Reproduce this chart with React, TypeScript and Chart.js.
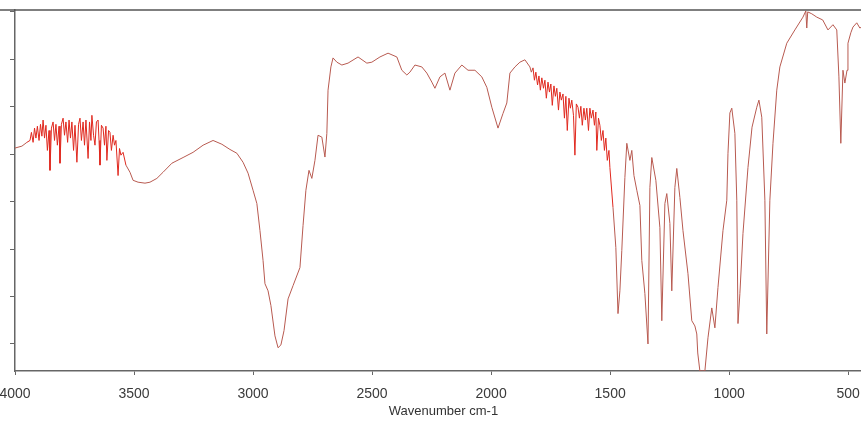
import React, { useEffect, useRef } from "react";
import { Chart, registerables } from "chart.js";

Chart.register(...registerables);

// Wavenumber (cm-1) and transmittance (%T)
const wavenumbers: number[] = [
  4000, 3971, 3950,
  3937, 3931, 3924, 3918, 3912, 3906, 3899, 3893, 3887, 3882, 3876, 3870, 3864, 3857, 3853, 3847,
  3840, 3834, 3828, 3822, 3815, 3811, 3805, 3798, 3792, 3786, 3779, 3773, 3767, 3761, 3754, 3748,
  3740, 3733, 3727, 3721, 3714, 3708, 3702, 3693, 3687, 3681, 3677, 3670, 3664, 3658, 3651, 3647,
  3643, 3637, 3630, 3624, 3618, 3614, 3607, 3601, 3595, 3588, 3582, 3576, 3567, 3561, 3555, 3546,
  3534,
  3517, 3504, 3483, 3454, 3433, 3404, 3378, 3341, 3294, 3252, 3210, 3168, 3131, 3097, 3068, 3042,
  3021, 3000, 2984, 2971, 2958, 2950, 2937, 2925, 2908, 2895, 2883, 2870, 2853, 2832, 2803, 2790,
  2778, 2765, 2753, 2740, 2727, 2711, 2698, 2690, 2685, 2673, 2664, 2648, 2627, 2601, 2559, 2522,
  2501, 2467, 2433, 2396, 2375, 2354, 2341, 2320, 2291, 2270, 2249, 2236, 2215, 2194, 2173, 2152,
  2123, 2097, 2068, 2039, 2018, 1997, 1971, 1950, 1934, 1921, 1900, 1879, 1858,
  1837, 1831, 1824, 1818, 1812, 1805, 1799, 1793, 1787, 1780, 1774, 1768, 1761, 1755, 1749, 1743,
  1736, 1730, 1724, 1717, 1711, 1705, 1698, 1692, 1686, 1680, 1673, 1667, 1661, 1654, 1648, 1642,
  1635, 1629, 1623, 1617, 1610, 1604, 1598, 1591, 1585, 1579, 1572, 1566, 1560, 1556, 1549, 1543,
  1537, 1530, 1524, 1518, 1512, 1505, 1501,
  1488, 1476, 1467, 1459, 1451, 1438, 1430, 1417, 1409, 1400, 1388, 1375, 1367, 1354, 1341, 1333,
  1325, 1308, 1291, 1283, 1270, 1262, 1249, 1241, 1228, 1220, 1207, 1194, 1173, 1157, 1144, 1136,
  1132, 1123, 1102, 1089, 1073, 1060, 1047, 1026, 1010, 1005, 997, 989, 976, 968, 963, 955,
  942, 921, 904, 884, 875, 863, 850, 842, 829, 816, 800, 787, 758, 724, 690, 678,
  674, 670, 653, 632, 607, 585, 564, 548, 539, 531, 522, 514, 505, 501, 489, 480,
  464, 451, 426,
];

const transmittance: number[] = [
  51.3, 51.7, 52.5,
  52.9, 54.6, 52.5, 55.5, 53.4, 55.9, 52.9, 56.3, 53.8, 57.2, 53.4, 56.1, 50.8, 55.0, 46.6, 55.5,
  56.8, 52.9, 56.3, 51.9, 55.9, 48.1, 56.3, 57.6, 54.0, 56.8, 52.5, 57.2, 53.4, 56.8, 50.8, 56.1,
  48.3, 56.3, 57.6, 52.9, 56.8, 51.9, 57.2, 49.1, 56.8, 52.9, 58.2, 54.0, 51.9, 56.8, 57.2, 52.9,
  47.7, 56.1, 55.5, 51.9, 55.9, 48.7, 55.0, 54.6, 50.8, 54.0, 51.9, 52.9, 45.5, 51.2, 49.8, 50.4,
  47.7,
  46.2, 44.5, 44.1, 43.9, 44.1, 44.9, 46.2, 48.1, 49.3, 50.4, 51.9, 52.9, 52.1, 51.0, 50.2, 48.3,
  46.0, 42.4, 39.6, 33.9, 27.6, 22.7, 21.2, 18.1, 11.7, 9.2, 9.8, 12.8, 19.5, 22.3, 26.1, 35.0,
  42.4, 46.6, 44.9, 48.7, 54.0, 53.6, 49.4, 54.4, 63.5, 68.4, 70.3, 69.4, 68.8, 69.2, 70.5, 69.2,
  69.4, 70.5, 71.3, 70.5, 67.7, 66.7, 67.3, 68.8, 68.4, 67.1, 65.2, 63.9, 66.3, 67.1, 63.5, 67.1,
  68.8, 67.7, 67.7, 66.3, 64.1, 59.9, 55.5, 58.6, 60.8, 67.1, 68.4, 69.4, 69.9,
  68.4, 67.3, 68.2, 65.6, 67.3, 64.6, 66.5, 63.5, 66.1, 63.9, 65.6, 61.8, 65.2, 63.1, 64.8, 60.3,
  64.4, 62.2, 63.9, 59.3, 63.1, 61.4, 62.7, 57.6, 62.2, 55.0, 61.8, 59.7, 61.4, 58.2, 49.8, 60.6,
  59.9, 57.6, 60.1, 56.1, 59.7, 57.2, 59.7, 55.0, 59.7, 57.6, 59.3, 56.1, 58.9, 50.8, 57.6, 56.1,
  52.9, 55.0, 50.8, 53.4, 48.7, 50.8, 47.2,
  38.8, 30.3, 16.4, 21.2, 29.7, 45.1, 52.3, 48.7, 50.8, 45.5, 42.4, 39.2, 27.6, 20.6, 10.0, 43.0,
  49.3, 44.5, 34.5, 14.9, 39.6, 41.7, 35.4, 21.2, 43.0, 47.0, 40.9, 33.9, 24.8, 14.9, 13.8, 12.1,
  8.1, 4.3, 4.3, 11.3, 17.6, 13.4, 21.9, 33.9, 40.3, 50.2, 58.7, 59.7, 54.4, 40.3, 14.3, 20.6,
  33.3, 47.2, 55.7, 59.9, 61.4, 57.8, 40.3, 12.1, 40.3, 52.3, 63.5, 68.4, 73.4, 76.2, 78.9, 80.2,
  76.6, 80.0, 79.6, 78.9, 78.3, 76.2, 77.3, 76.2, 66.3, 52.3, 67.7, 65.0, 67.7, 73.4, 75.6, 76.8,
  77.7, 76.6, 77.3,
];

const xTickValues: number[] = [4000, 3500, 3000, 2500, 2000, 1500, 1000, 500];
const yTickValues: number[] = [10, 20, 30, 40, 50, 60, 70, 80];
const axisTitle = "Wavenumber cm-1";

const frameTop = {
  id: "frameTop",
  afterDraw(chart: any) {
    const { ctx, chartArea } = chart;
    ctx.save();
    ctx.strokeStyle = "#555";
    ctx.lineWidth = 1.5;
    ctx.beginPath();
    ctx.moveTo(0, chartArea.top);
    ctx.lineTo(chart.width, chartArea.top);
    ctx.stroke();
    ctx.restore();
  },
};

export default function App() {
  const ref = useRef<HTMLCanvasElement | null>(null);

  useEffect(() => {
    if (!ref.current) return;
    const points = wavenumbers.map((w, i) => ({ x: w, y: transmittance[i] }));
    const chart = new Chart(ref.current, {
      type: "line",
      data: {
        datasets: [
          {
            data: points,
            borderWidth: 1,
            borderColor: "#b85a50",
            pointRadius: 0,
            tension: 0,
            segment: {
              borderColor: (c: any) => {
                const w = c.p0.parsed.x;
                return (w > 3540 && w < 3960) || (w > 1495 && w < 1830) ? "#e0281e" : "#b85a50";
              },
            },
          },
        ],
      },
      options: {
        responsive: false,
        animation: false,
        layout: { padding: { left: 15, right: 48, top: 10, bottom: 0 } },
        plugins: { legend: { display: false }, tooltip: { enabled: false } },
        scales: {
          x: {
            type: "linear",
            reverse: true,
            min: 400,
            max: 4000,
            afterBuildTicks: (s: any) => {
              s.ticks = xTickValues.map((v) => ({ value: v }));
            },
            afterFit: (s: any) => {
              s.height = 59;
            },
            border: { display: true, color: "#666", width: 1.5 },
            grid: { drawOnChartArea: false, drawTicks: true, tickLength: 4, color: "#666" },
            ticks: {
              autoSkip: false,
              maxRotation: 0,
              padding: 11,
              color: "#3a3a3a",
              font: { family: "'Liberation Sans', Arial, sans-serif", size: 14 },
              callback: (v: any) => String(v),
            },
            title: {
              display: true,
              text: axisTitle,
              color: "#333",
              padding: { top: 0, bottom: 11 },
              font: { family: "'Liberation Sans', Arial, sans-serif", size: 13 },
            },
          },
          y: {
            type: "linear",
            min: 4.3,
            max: 80.4,
            afterBuildTicks: (s: any) => {
              s.ticks = yTickValues.map((v) => ({ value: v }));
            },
            afterFit: (s: any) => {
              s.width = 40;
            },
            border: { display: true, color: "#666", width: 1.5 },
            grid: { drawOnChartArea: false, drawTicks: true, tickLength: 5, color: "#666" },
            ticks: { display: false },
          },
        },
      },
      plugins: [frameTop],
    });
    return () => chart.destroy();
  }, []);

  return (
    <div
      style={{
        position: "fixed",
        left: 0,
        top: 0,
        width: 861,
        height: 430,
        overflow: "hidden",
        background: "#fff",
      }}
    >
      <canvas
        ref={ref}
        width={960}
        height={430}
        style={{ position: "absolute", left: -40, top: 0, width: 960, height: 430 }}
      />
    </div>
  );
}
